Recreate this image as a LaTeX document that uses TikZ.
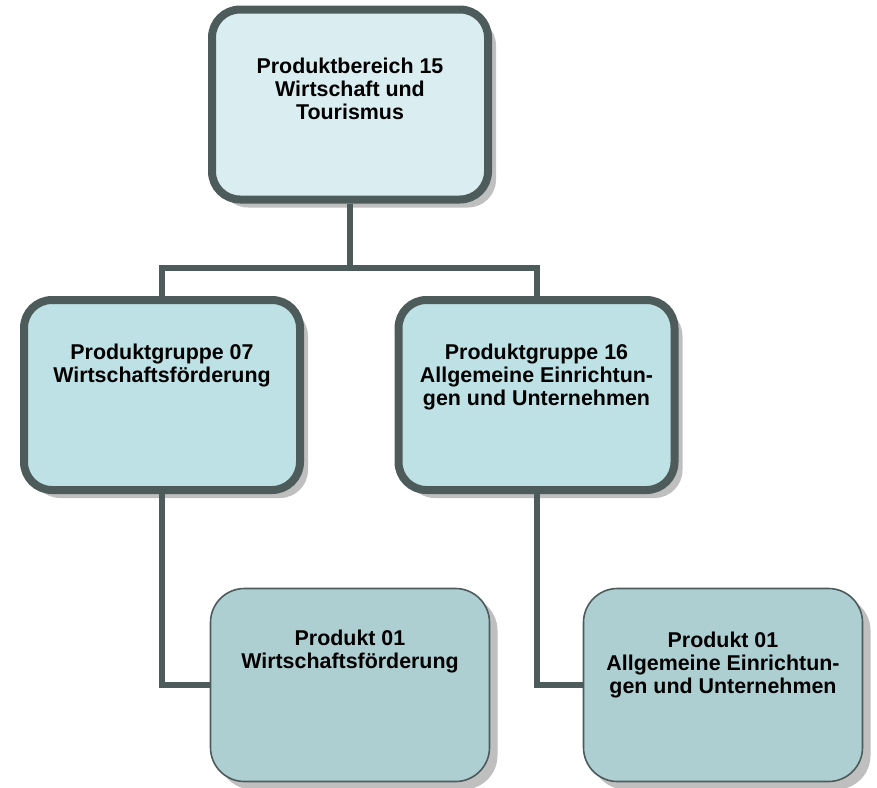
\documentclass[tikz,border=0pt]{standalone}
\usepackage{fontspec}
\setmainfont{Liberation Sans}
\usetikzlibrary{positioning,shadows}
\definecolor{rahmen}{HTML}{4D5B5B}
\definecolor{hellblau}{HTML}{DAEEF1}
\definecolor{mittelblau}{HTML}{BDE1E4}
\definecolor{graublau}{HTML}{AECFD2}
\tikzset{
  kasten/.style={draw=rahmen, drop shadow={shadow xshift=4pt, shadow yshift=-4pt, fill=black!25, opacity=1}},
  ebene/.style={kasten, line width=4pt, rounded corners=14pt, minimum width=138pt, minimum height=95pt},
  produkt/.style={kasten, line width=0.8pt, rounded corners=17pt, fill=graublau, minimum width=139.5pt, minimum height=96.5pt},
  titel/.style={align=center, inner sep=0pt, font=\bfseries\fontsize{10.7}{11.5}\selectfont},
  verbinder/.style={draw=rahmen, line width=3pt}
}

\begin{document}
\begin{tikzpicture}[x=0.5pt,y=-0.5pt]
  \useasboundingbox (0,0) rectangle (877,787);
  % Kaesten
  \node[ebene, fill=hellblau] (pb15) at (350,104.5) {};
  \node[ebene, fill=mittelblau] (pg07) at (162,395) {};
  \node[ebene, fill=mittelblau] (pg16) at (536.5,395) {};
  \node[produkt] (p01a) at (350,685) {};
  \node[produkt] (p01b) at (723,685) {};
  % Texte
  \node[titel, anchor=north, below=26pt of pb15.north] (pb15t) {Produktbereich 15\\Wirtschaft und\\Tourismus};
  \node[titel, anchor=north, below=24pt of pg07.north] (pg07t) {Produktgruppe 07\\Wirtschaftsförderung};
  \node[titel, anchor=north, below=24pt of pg16.north] (pg16t) {Produktgruppe 16\\Allgemeine Einrichtun-\\gen und Unternehmen};
  \node[titel, anchor=north, below=21pt of p01a.north] (p01at) {Produkt 01\\Wirtschaftsförderung};
  \node[titel, anchor=north, below=22pt of p01b.north] (p01bt) {Produkt 01\\Allgemeine Einrichtun-\\gen und Unternehmen};
  % Verbindungen
  \coordinate (knoten) at (350,268);
  \draw[verbinder] (pb15.south) -- (knoten) -| (pg07.north);
  \draw[verbinder] (knoten) -| (pg16.north);
  \draw[verbinder] (pg07.south) |- (p01a.west);
  \draw[verbinder] (pg16.south) |- (p01b.west);
\end{tikzpicture}
\end{document}
